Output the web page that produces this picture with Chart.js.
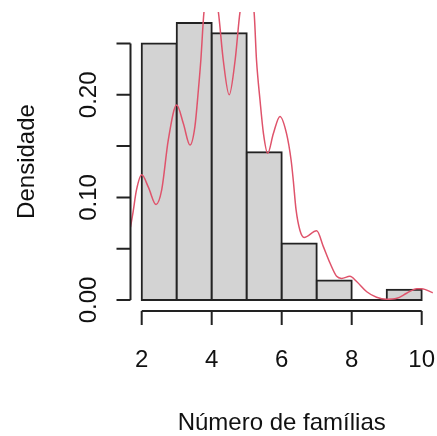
<!DOCTYPE html>
<html>
<head>
  <title>Histograma - Número de famílias</title>
  <script src="https://cdn.jsdelivr.net/npm/chart.js"></script>
  <style>
    body { margin: 0; background: #fff; }
  </style>
</head>
<body>
  <canvas id="histChart" width="437" height="436"></canvas>

  <script>
    // classes e densidades do histograma
    const breaks = [2, 3, 4, 5, 6, 7, 8, 9, 10];
    const densidades = [0.25, 0.27, 0.26, 0.144, 0.055, 0.019, 0, 0.01];

    // curva de densidade
    const kdeX = [1.68, 1.75, 1.85, 2.00, 2.19, 2.41, 2.57, 2.76, 3.00, 3.19, 3.38, 3.52, 3.62, 3.69, 3.78,
                  4.00, 4.19, 4.33, 4.50, 4.67, 4.81, 5.00, 5.21, 5.28, 5.38, 5.48, 5.60, 5.76, 5.95, 6.14,
                  6.27, 6.33, 6.41, 6.52, 6.64, 7.00, 7.19, 7.38, 7.57, 7.71, 7.95, 8.14, 8.43, 8.71, 9.00,
                  9.29, 9.57, 9.86, 10.00, 10.32];
    const kdeY = [0.071, 0.085, 0.107, 0.122, 0.110, 0.093, 0.107, 0.156, 0.190, 0.172, 0.151, 0.169, 0.205, 0.234, 0.281,
                  0.315, 0.281, 0.234, 0.200, 0.234, 0.281, 0.306, 0.281, 0.234, 0.195, 0.162, 0.143, 0.162, 0.179, 0.162,
                  0.136, 0.117, 0.088, 0.068, 0.061, 0.0675, 0.052, 0.036, 0.023, 0.021, 0.023, 0.018, 0.008, 0.0026, 0.0007,
                  0.0016, 0.0065, 0.011, 0.011, 0.007];

    const xTicks = [2, 4, 6, 8, 10];
    const yTicks = [0, 0.05, 0.10, 0.15, 0.20, 0.25];
    const yLabels = ['0.00', '', '0.10', '', '0.20', ''];

    const xTitle = 'Número de famílias';
    const yTitle = 'Densidade';

    const fonte = '24px "Liberation Sans", Arial, sans-serif';

    // barras: centro de cada classe
    const barras = densidades.map((d, i) => ({ x: (breaks[i] + breaks[i + 1]) / 2, y: d }));
    const curva = kdeX.map((v, i) => ({ x: v, y: kdeY[i] }));
    const base = [{ x: breaks[0], y: 0 }, { x: breaks[breaks.length - 1], y: 0 }];

    // eixos no estilo do R (desenhados fora da área do gráfico)
    const eixosR = {
      id: 'eixosR',
      afterDatasetsDraw(chart) {
        const { ctx, chartArea, scales: { x, y } } = chart;
        ctx.save();
        ctx.strokeStyle = '#222';
        ctx.lineWidth = 2;
        ctx.fillStyle = '#111';
        ctx.font = fonte;

        // eixo x
        const yb = chartArea.bottom;
        ctx.beginPath();
        ctx.moveTo(x.getPixelForValue(xTicks[0]), yb);
        ctx.lineTo(x.getPixelForValue(xTicks[xTicks.length - 1]), yb);
        xTicks.forEach(t => {
          const px = x.getPixelForValue(t);
          ctx.moveTo(px, yb);
          ctx.lineTo(px, yb + 14);
        });
        ctx.stroke();
        ctx.textAlign = 'center';
        ctx.textBaseline = 'alphabetic';
        xTicks.forEach(t => ctx.fillText(String(t), x.getPixelForValue(t), yb + 56));
        ctx.fillText(xTitle, (chartArea.left + chartArea.right) / 2, yb + 119);

        // eixo y
        const xl = chartArea.left;
        ctx.beginPath();
        ctx.moveTo(xl, y.getPixelForValue(yTicks[0]));
        ctx.lineTo(xl, y.getPixelForValue(yTicks[yTicks.length - 1]));
        yTicks.forEach(t => {
          const py = y.getPixelForValue(t);
          ctx.moveTo(xl, py);
          ctx.lineTo(xl - 14, py);
        });
        ctx.stroke();
        yTicks.forEach((t, i) => {
          if (!yLabels[i]) return;
          ctx.save();
          ctx.translate(xl - 35, y.getPixelForValue(t));
          ctx.rotate(-Math.PI / 2);
          ctx.fillText(yLabels[i], 0, 0);
          ctx.restore();
        });
        ctx.save();
        ctx.translate(xl - 97, (chartArea.top + chartArea.bottom) / 2);
        ctx.rotate(-Math.PI / 2);
        ctx.fillText(yTitle, 0, 0);
        ctx.restore();

        ctx.restore();
      }
    };

    new Chart(document.getElementById('histChart'), {
      type: 'bar',
      data: {
        datasets: [
          {
            type: 'bar',
            data: barras,
            backgroundColor: '#D3D3D3',
            borderColor: '#222',
            borderWidth: 2,
            borderSkipped: false,
            inflateAmount: 1,
            barPercentage: 1,
            categoryPercentage: 1,
            order: 3
          },
          {
            type: 'line',
            data: base,
            borderColor: '#222',
            borderWidth: 2,
            pointRadius: 0,
            order: 2
          },
          {
            type: 'line',
            data: curva,
            borderColor: '#DF536B',
            borderWidth: 1.5,
            pointRadius: 0,
            cubicInterpolationMode: 'monotone',
            order: 1
          }
        ]
      },
      options: {
        responsive: false,
        animation: false,
        layout: { padding: { left: 130.5, right: 4.1, top: 12, bottom: 125 } },
        plugins: { legend: { display: false }, tooltip: { enabled: false } },
        scales: {
          x: {
            type: 'linear',
            min: 1.68,
            max: 10.32,
            offset: false,
            display: false,
            afterBuildTicks: s => { s.ticks = xTicks.map(v => ({ value: v })); }
          },
          y: {
            min: -0.0108,
            max: 0.2808,
            display: false,
            afterBuildTicks: s => { s.ticks = yTicks.map(v => ({ value: v })); }
          }
        }
      },
      plugins: [eixosR]
    });
  </script>
</body>
</html>
